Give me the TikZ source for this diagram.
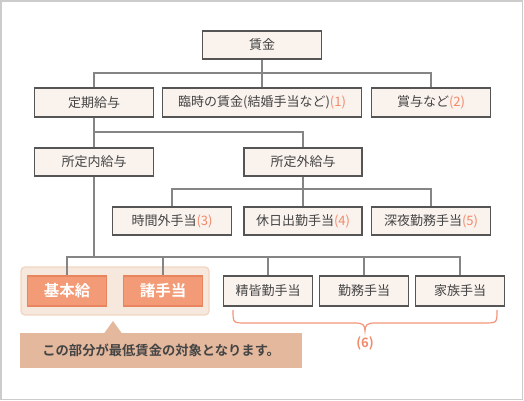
\documentclass[tikz,border=0pt]{standalone}
\usepackage{fontspec}
\setmainfont{Noto Sans CJK JP}[BoldFont={Noto Sans CJK JP Bold}]
\definecolor{boxfill}{HTML}{F9F2ED}
\definecolor{boxline}{HTML}{555555}
\definecolor{txt}{HTML}{444444}
\definecolor{num}{HTML}{F2896A}
\definecolor{orfill}{HTML}{F29B76}
\definecolor{orline}{HTML}{E9855E}
\definecolor{grpfill}{HTML}{F7E8DD}
\definecolor{grpline}{HTML}{F1D5C2}
\definecolor{callcol}{HTML}{E3B89D}
\definecolor{conncol}{HTML}{858585}
\definecolor{framecol}{HTML}{CCCCCC}
\tikzset{
  box/.style={draw=boxline, fill=boxfill, line width=1.3pt, inner sep=0pt,
    text=txt, font=\fontsize{13}{15}\selectfont, minimum height=28pt},
  orbox/.style={draw=orline, fill=orfill, line width=1.2pt, inner sep=0pt,
    text=white, font=\fontsize{15.5}{17}\bfseries, minimum width=79pt, minimum height=30pt},
  conn/.style={draw=conncol, line width=1.2pt},
}
\newcommand{\nm}[1]{\textcolor{num}{#1}}
\begin{document}
\begin{tikzpicture}[x=1pt,y=-1pt]
\useasboundingbox (0,0) rectangle (524,401);
\draw[framecol, line width=1.3pt] (1,1) rectangle (522.5,399.5);
% group container
\node[draw=grpline, fill=grpfill, line width=1.3pt, rounded corners=4pt,
  minimum width=188pt, minimum height=48pt] (grp) at (115,291) {};
% nodes
\node[box, minimum width=119pt] (chingin) at (262,45) {賃金};
\node[box, minimum width=119pt, minimum height=29pt] (teiki) at (94,102.5) {定期給与};
\node[box, minimum width=199pt, minimum height=29pt] (rinji) at (262,102.5) {臨時の賃金(結婚手当など)\nm{(1)}};
\node[box, minimum width=119pt, minimum height=29pt] (shoyo) at (431,102.5) {賞与など\nm{(2)}};
\node[box, minimum width=119pt] (nai) at (94,162) {所定内給与};
\node[box, minimum width=118pt] (gai) at (303,162) {所定外給与};
\node[box, minimum width=119pt] (jikan) at (172,221) {時間外手当\nm{(3)}};
\node[box, minimum width=118pt] (kyujitsu) at (303,221) {休日出勤手当\nm{(4)}};
\node[box, minimum width=119pt] (shinya) at (431,221) {深夜勤務手当\nm{(5)}};
\node[orbox] (kihon) at (67,291) {基本給};
\node[orbox] (shote) at (163,291) {諸手当};
\node[box, minimum width=89pt, minimum height=30pt] (seikai) at (268,291) {精皆勤手当};
\node[box, minimum width=89pt, minimum height=30pt] (kinmu) at (364,291) {勤務手当};
\node[box, minimum width=89pt, minimum height=30pt] (kazoku) at (460,291) {家族手当};
% connectors
\coordinate (j1) at (262,73);
\draw[conn] (chingin.south) -- (j1);
\draw[conn] (teiki.north) |- (j1) -| (shoyo.north);
\draw[conn] (j1) -- (rinji.north);
\coordinate (j2) at (94,132);
\draw[conn] (teiki.south) -- (j2) -| (gai.north);
\draw[conn] (j2) -- (nai.north);
\coordinate (j3) at (303,189);
\draw[conn] (gai.south) -- (j3);
\draw[conn] (jikan.north) |- (j3) -| (shinya.north);
\draw[conn] (j3) -- (kyujitsu.north);
\coordinate (j4) at (94,257);
\draw[conn] (nai.south) -- (j4);
\draw[conn] (kihon.north) |- (j4) -| (kazoku.north);
\draw[conn] (shote.north) |- (j4);
\draw[conn] (seikai.north) |- (j4);
\draw[conn] (kinmu.north) |- (j4);
% callout
\node[fill=callcol, inner sep=0pt, minimum width=282pt, minimum height=35pt,
  anchor=north west, text=txt, font=\fontsize{13.3}{15}\bfseries] (note) at (20,333)
  {この部分が最低賃金の対象となります。};
\fill[callcol] (104,333.5) -- (113,321) -- (122,333.5) -- cycle;
% brace
\draw[num!90, line width=1.2pt] (233,310) .. controls (233,323) and (233,323) .. (246,323)
  -- (355,323) .. controls (363,323) and (365,325) .. (365,331)
  .. controls (365,325) and (367,323) .. (375,323) -- (484,323)
  .. controls (497,323) and (497,323) .. (497,310);
\node[text=num, font=\fontsize{13}{15}\bfseries] (six) at (365,343) {(6)};
\end{tikzpicture}
\end{document}
